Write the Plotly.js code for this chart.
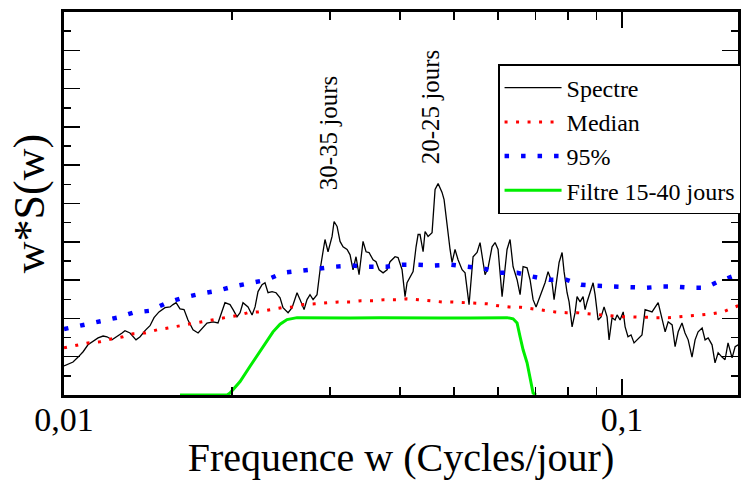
<!DOCTYPE html>
<html>
<head>
<meta charset="utf-8">
<script src="https://cdn.plot.ly/plotly-3.0.1.min.js"></script>
<style>html,body{margin:0;padding:0;background:#fff;}#chart{width:755px;height:480px;}</style>
</head>
<body>
<div id="chart"></div>
<script>
// Spectre (frequency in cycles/day, w*S(w))
const freqSpectre = [0.01000,0.01038,0.01060,0.01082,0.01104,0.01127,0.01151,0.01175,0.01194,0.01219,
0.01245,0.01271,0.01286,0.01313,0.01346,0.01369,0.01397,0.01426,0.01450,0.01480,
0.01517,0.01549,0.01568,0.01588,0.01614,0.01641,0.01668,0.01703,0.01739,0.01775,
0.01804,0.01850,0.01888,0.01943,0.01984,0.02009,0.02042,0.02068,0.02093,0.02137,
0.02173,0.02200,0.02227,0.02264,0.02292,0.02321,0.02360,0.02399,0.02439,0.02469,
0.02521,0.02563,0.02616,0.02649,0.02693,0.02726,0.02760,0.02795,0.02841,0.02877,
0.02912,0.02936,0.02973,0.03023,0.03048,0.03086,0.03124,0.03163,0.03216,0.03256,
0.03296,0.03337,0.03379,0.03435,0.03478,0.03521,0.03580,0.03624,0.03670,0.03731,
0.03793,0.03840,0.03920,0.03969,0.04035,0.04085,0.04119,0.04171,0.04223,0.04275,
0.04311,0.04346,0.04401,0.04437,0.04492,0.04567,0.04624,0.04682,0.04759,0.04799,
0.04858,0.04919,0.04960,0.05021,0.05084,0.05169,0.05233,0.05320,0.05409,0.05499,
0.05567,0.05637,0.05683,0.05754,0.05850,0.05923,0.05997,0.06097,0.06172,0.06223,
0.06301,0.06380,0.06486,0.06567,0.06649,0.06759,0.06843,0.06929,0.07015,0.07073,
0.07191,0.07280,0.07371,0.07494,0.07556,0.07650,0.07714,0.07810,0.07874,0.07972,
0.08039,0.08139,0.08240,0.08308,0.08412,0.08517,0.08587,0.08658,0.08766,0.08876,
0.08949,0.09061,0.09174,0.09287,0.09403,0.09481,0.09599,0.09719,0.09799,0.09921,
0.1005,0.1013,0.1025,0.1038,0.1051,0.1064,0.1086,0.1100,0.1132,0.1161,
0.1180,0.1195,0.1210,0.1230,0.1245,0.1261,0.1281,0.1297,0.1314,0.1335,
0.1352,0.1369,0.1392,0.1409,0.1427,0.1450,0.1468,0.1487,0.1511,0.1530,
0.1549,0.1575,0.1595,0.1615];
const spectre = [0.76,0.86,0.99,1.13,1.31,1.41,1.49,1.54,1.52,1.44,
1.52,1.62,1.68,1.62,1.44,1.52,1.68,1.81,2.02,2.17,
2.28,2.30,2.36,2.41,2.25,2.23,1.96,1.70,1.62,1.75,
1.88,1.91,1.88,2.41,2.36,2.23,2.04,2.15,2.41,2.30,
2.09,2.30,2.70,2.88,2.93,2.67,2.70,2.67,2.54,2.28,
2.15,2.28,2.67,2.49,2.23,2.49,2.62,2.49,2.62,3.27,
3.80,4.06,3.74,4.14,4.53,4.40,4.01,3.87,3.80,3.66,
3.27,3.61,3.14,4.01,3.74,3.72,3.53,3.48,3.27,3.19,
3.27,3.48,3.61,3.59,3.27,2.57,2.93,3.09,3.22,3.87,
4.19,4.19,3.74,4.27,4.14,4.24,5.37,5.52,5.29,5.10,
4.40,3.80,3.46,3.80,3.53,3.27,3.19,2.36,3.61,3.72,
3.98,3.46,3.14,3.32,3.87,3.98,3.80,2.57,3.35,3.80,
4.06,3.35,3.01,2.62,3.35,3.32,3.01,2.49,2.30,2.43,
2.70,2.93,3.22,2.93,2.49,3.09,3.46,3.72,3.22,2.67,
2.43,1.78,2.15,2.57,2.43,2.57,2.23,2.43,2.67,2.93,
2.62,1.96,2.04,2.30,2.04,1.44,2.02,1.96,2.09,1.96,
2.17,1.78,1.52,1.57,1.36,1.44,1.57,2.23,2.17,2.41,
1.96,1.65,1.91,1.83,1.26,1.65,1.88,1.62,1.44,0.99,
1.44,1.65,1.75,1.44,1.49,1.31,0.84,1.10,0.99,0.92,
1.36,0.97,1.26,1.31];

// Median
const freqMedian = [0.01000,0.01104,0.01160,0.01219,0.01276,0.01330,0.01397,0.01468,0.01536,0.01614,
0.01682,0.01767,0.01850,0.01943,0.02042,0.02137,0.02227,0.02340,0.02459,0.02573,
0.02682,0.02818,0.02961,0.03098,0.03256,0.03407,0.03580,0.03746,0.03936,0.04119,
0.04311,0.04529,0.04759,0.04960,0.05211,0.05476,0.05730,0.05997,0.06275,0.06594,
0.06900,0.07221,0.07587,0.07939,0.08308,0.08694,0.09098,0.09560,0.1000,0.1047,
0.1100,0.1151,0.1210,0.1266,0.1324,0.1386,0.1450,0.1518,0.1582,0.1615];
const median = [1.23,1.36,1.39,1.47,1.52,1.60,1.62,1.70,1.75,1.81,
1.86,1.91,1.96,2.02,2.07,2.15,2.17,2.23,2.28,2.30,
2.36,2.38,2.41,2.43,2.43,2.46,2.46,2.49,2.49,2.51,
2.49,2.46,2.43,2.43,2.41,2.38,2.38,2.33,2.30,2.29,
2.25,2.20,2.17,2.15,2.15,2.12,2.09,2.07,2.04,2.04,
2.02,2.02,2.02,2.04,2.07,2.09,2.12,2.17,2.28,2.33];

// 95 %
const freq95 = [0.01000,0.01082,0.01160,0.01245,0.01330,0.01426,0.01530,0.01634,0.01753,0.01880,
0.02009,0.02155,0.02311,0.02469,0.02649,0.02841,0.03060,0.03283,0.03507,0.03777,
0.04035,0.04293,0.04605,0.04940,0.05298,0.05660,0.06046,0.06486,0.06929,0.07402,
0.07939,0.08447,0.09023,0.09678,0.1034,0.1105,0.1180,0.1245,0.1330,0.1409,
0.1487,0.1582,0.1615];
const p95 = [1.72,1.83,1.91,2.02,2.15,2.20,2.41,2.54,2.64,2.72,
2.83,2.91,3.01,3.19,3.25,3.30,3.35,3.38,3.35,3.35,
3.40,3.40,3.38,3.40,3.35,3.30,3.19,3.19,3.09,3.01,
3.01,2.88,2.85,2.83,2.80,2.80,2.83,2.83,2.80,2.80,
2.96,3.09,3.15];

// Filtre 15-40 jours
const freqFiltre = [0.01614,0.01960,0.01984,0.02068,0.02155,0.02246,0.02311,0.02369,0.02439,0.02510,
0.02616,0.02877,0.03256,0.03685,0.04171,0.04720,0.05342,0.06046,0.06223,0.06380,
0.06486,0.06567,0.06649,0.06759,0.06843,0.06929,0.07015];
const filtre = [0,0,0.05,0.35,0.75,1.15,1.42,1.65,1.85,1.97,
2.02,2.01,2.01,2.02,2.01,2.01,2.01,2.02,2.02,1.99,
1.88,1.52,1.18,0.84,0.47,0.05,0];

const legendNames = ['Spectre','Median','95%','Filtre 15-40 jours'];
const xTickVals = [0.01, 0.1];
const xTickText = ['0,01', '0,1'];
const xMinorVals = [0.02,0.03,0.04,0.05,0.06,0.07,0.08,0.09,0.2];

const FONT = '"Liberation Serif", "Times New Roman", Times, serif';

const traces = [
  {x: freqSpectre, y: spectre, name: legendNames[0], mode: 'lines', type: 'scatter',
   line: {color: '#000000', width: 1.3}},
  {x: freqMedian, y: median, name: legendNames[1], mode: 'lines', type: 'scatter',
   line: {color: '#ff0000', width: 3, dash: '3px,8.5px'}},
  {x: freq95, y: p95, name: legendNames[2], mode: 'lines', type: 'scatter',
   line: {color: '#0000ff', width: 4.5, dash: '4.5px,12px'}},
  {x: freqFiltre, y: filtre, name: legendNames[3], mode: 'lines', type: 'scatter',
   line: {color: '#00ee00', width: 3}}
];

const layout = {
  width: 755, height: 480,
  margin: {l: 64, r: 17, t: 12, b: 85, autoexpand: false},
  paper_bgcolor: '#ffffff', plot_bgcolor: '#ffffff',
  font: {family: FONT, color: '#000000'},
  showlegend: true,
  legend: {x: 0.644, y: 0.864, xanchor: 'left', yanchor: 'top',
    bgcolor: '#ffffff', bordercolor: '#000000', borderwidth: 1.5,
    font: {family: FONT, size: 24, color: '#000000'}, itemwidth: 57, tracegroupgap: 0},
  xaxis: {
    type: 'log', range: [-2, -0.7921], autorange: false,
    showline: true, linecolor: '#000000', linewidth: 3, mirror: 'ticks',
    showgrid: false, zeroline: false,
    tickmode: 'array', tickvals: xTickVals, ticktext: xTickText,
    ticks: 'inside', ticklen: 16, tickwidth: 1.5, tickcolor: '#000000',
    tickfont: {family: FONT, size: 34, color: '#000000'},
    ticklabelstandoff: -8,
    minor: {tickmode: 'array', tickvals: xMinorVals, ticks: 'inside', ticklen: 8, tickwidth: 1.5, tickcolor: '#000000', showgrid: false},
    title: {text: 'Frequence w (Cycles/jour)', font: {family: FONT, size: 40, color: '#000000'}, standoff: 10}
  },
  yaxis: {
    range: [0, 10], autorange: false,
    showline: true, linecolor: '#000000', linewidth: 3, mirror: 'ticks',
    showgrid: false, zeroline: false, showticklabels: false,
    tickmode: 'linear', tick0: 0, dtick: 1,
    ticks: 'inside', ticklen: 16, tickwidth: 1.5, tickcolor: '#000000',
    minor: {tickmode: 'linear', tick0: 0, dtick: 0.5, ticks: 'inside', ticklen: 7, tickwidth: 1.5, tickcolor: '#000000', showgrid: false},
    title: {text: 'w*S(w)', font: {family: FONT, size: 44, color: '#000000'}, standoff: 3}
  },
  annotations: [
    {xref: 'paper', yref: 'paper', x: 0.392, y: 0.684, xanchor: 'center', yanchor: 'middle',
     text: '30-35 jours', showarrow: false,
     textangle: -90, font: {family: FONT, size: 25, color: '#000000'}},
    {xref: 'paper', yref: 'paper', x: 0.545, y: 0.752, xanchor: 'center', yanchor: 'middle',
     text: '20-25 jours', showarrow: false,
     textangle: -90, font: {family: FONT, size: 25, color: '#000000'}}
  ]
};

Plotly.newPlot('chart', traces, layout, {staticPlot: true, displayModeBar: false});
</script>
</body>
</html>
